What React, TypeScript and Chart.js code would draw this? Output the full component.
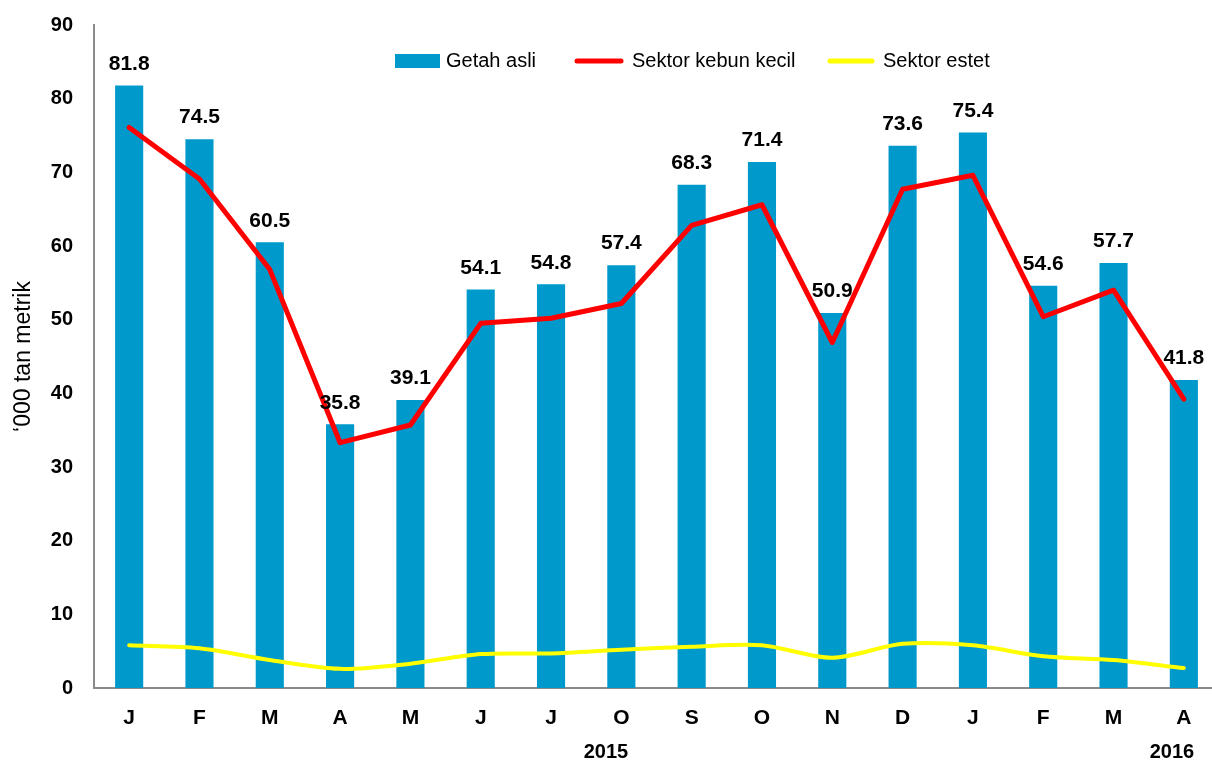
import React, { useEffect, useRef } from "react";
import { Chart, registerables } from "chart.js";

Chart.register(...registerables);

const CATEGORIES = ["J", "F", "M", "A", "M", "J", "J", "O", "S", "O", "N", "D", "J", "F", "M", "A"];
const GETAH_ASLI = [81.8, 74.5, 60.5, 35.8, 39.1, 54.1, 54.8, 57.4, 68.3, 71.4, 50.9, 73.6, 75.4, 54.6, 57.7, 41.8];
const KEBUN_KECIL = [76.1, 69.1, 56.8, 33.3, 35.7, 49.5, 50.2, 52.2, 62.8, 65.6, 46.9, 67.7, 69.6, 50.4, 54.0, 39.2];
const ESTET = [5.8, 5.4, 3.8, 2.6, 3.3, 4.6, 4.7, 5.2, 5.6, 5.8, 4.1, 6.0, 5.8, 4.3, 3.8, 2.7];
const Y_TICKS = [0, 10, 20, 30, 40, 50, 60, 70, 80, 90];
const SERIES_NAMES = ["Getah asli", "Sektor kebun kecil", "Sektor estet"];
const YEARS = ["2015", "2016"];
const Y_TITLE = "\u2018000 tan metrik";

const BLUE = "#0099cc";
const RED = "#ff0000";
const YELLOW = "#ffff00";
const AXIS = "#8a8a8a";

export default function App() {
  const ref = useRef<HTMLCanvasElement | null>(null);

  useEffect(() => {
    const canvas = ref.current;
    if (!canvas) return;

    const extras = {
      id: "extras",
      afterDatasetsDraw(chart: any) {
        const ctx = chart.ctx;
        const meta = chart.getDatasetMeta(2);
        ctx.save();
        ctx.fillStyle = "#000";
        ctx.font = "bold 21px 'Liberation Sans', Arial, sans-serif";
        ctx.textAlign = "center";
        ctx.textBaseline = "bottom";
        meta.data.forEach((el: any, i: number) => {
          ctx.fillText(GETAH_ASLI[i].toFixed(1), el.x, el.y - 11);
        });
        ctx.restore();
      },
      afterDraw(chart: any) {
        const ctx = chart.ctx;
        const xs = chart.scales.x;
        ctx.save();
        // year labels
        ctx.fillStyle = "#000";
        ctx.font = "bold 20px 'Liberation Sans', Arial, sans-serif";
        ctx.textAlign = "center";
        ctx.textBaseline = "middle";
        const step = xs.getPixelForValue(1) - xs.getPixelForValue(0);
        ctx.fillText(YEARS[0], xs.getPixelForValue(6) + step * 0.78, 752);
        ctx.fillText(YEARS[1], xs.getPixelForValue(15) - step * 0.17, 752);

        // legend
        ctx.font = "20px 'Liberation Sans', Arial, sans-serif";
        ctx.textAlign = "left";
        const ly = 61;
        ctx.fillStyle = BLUE;
        ctx.fillRect(395, ly - 7, 45, 14);
        ctx.fillStyle = "#000";
        ctx.fillText(SERIES_NAMES[0], 446, ly);

        ctx.lineCap = "round";
        ctx.strokeStyle = RED;
        ctx.lineWidth = 5;
        ctx.beginPath();
        ctx.moveTo(577, ly);
        ctx.lineTo(621, ly);
        ctx.stroke();
        ctx.fillText(SERIES_NAMES[1], 632, ly);

        ctx.strokeStyle = YELLOW;
        ctx.beginPath();
        ctx.moveTo(830, ly);
        ctx.lineTo(872, ly);
        ctx.stroke();
        ctx.fillText(SERIES_NAMES[2], 883, ly);
        ctx.restore();
      },
    };

    const chart = new Chart(canvas, {
      type: "bar",
      data: {
        labels: CATEGORIES,
        datasets: [
          {
            type: "line",
            label: SERIES_NAMES[1],
            data: KEBUN_KECIL,
            borderColor: RED,
            backgroundColor: RED,
            borderWidth: 5,
            pointRadius: 0,
            tension: 0,
            borderCapStyle: "round",
            borderJoinStyle: "round",
            order: 1,
          } as any,
          {
            type: "line",
            label: SERIES_NAMES[2],
            data: ESTET,
            borderColor: YELLOW,
            backgroundColor: YELLOW,
            borderWidth: 4,
            pointRadius: 0,
            tension: 0.3,
            borderCapStyle: "round",
            order: 2,
          } as any,
          {
            type: "bar",
            label: SERIES_NAMES[0],
            data: GETAH_ASLI,
            backgroundColor: BLUE,
            barPercentage: 0.4,
            categoryPercentage: 1,
            order: 3,
          } as any,
        ],
      },
      options: {
        responsive: false,
        animation: false,
        layout: { autoPadding: false, padding: { top: 25, left: 0, right: 0, bottom: 0 } },
        plugins: {
          legend: { display: false },
          tooltip: { enabled: false },
        },
        scales: {
          x: {
            grid: { display: false, drawTicks: false },
            border: { color: AXIS, width: 2 },
            ticks: {
              color: "#000",
              font: { family: "'Liberation Sans', Arial, sans-serif", size: 21, weight: "bold" },
              padding: 18,
              maxRotation: 0,
            },
            afterFit: (s: any) => {
              s.height = 75;
            },
          },
          y: {
            min: 0,
            max: 90,
            afterBuildTicks: (s: any) => {
              s.ticks = Y_TICKS.map((v) => ({ value: v }));
            },
            grid: { display: false, drawTicks: false },
            border: { color: AXIS, width: 2 },
            ticks: {
              color: "#000",
              font: { family: "'Liberation Sans', Arial, sans-serif", size: 20, weight: "bold" },
              padding: 21,
            },
            title: {
              display: true,
              text: Y_TITLE,
              color: "#000",
              font: { family: "'Liberation Sans', Arial, sans-serif", size: 23 },
              padding: { top: 10, bottom: 0 },
            },
            afterFit: (s: any) => {
              s.width = 94;
              s.paddingTop = 0;
            },
          },
        },
      },
      plugins: [extras],
    });

    return () => chart.destroy();
  }, []);

  return (
    <div style={{ position: "fixed", left: 0, top: 0, width: 1212, height: 763, overflow: "hidden", background: "#fff" }}>
      <canvas ref={ref} width={1219} height={763} style={{ display: "block" }} />
    </div>
  );
}
